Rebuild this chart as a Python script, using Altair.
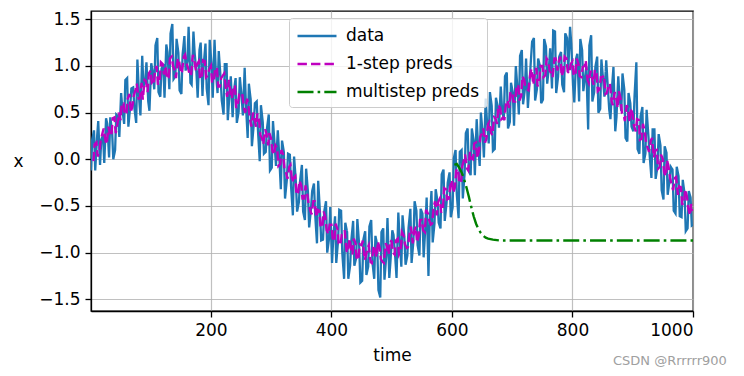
import altair as alt
import pandas as pd

# ---- data ----
data_time_a = list(range(1, 1000, 5)) + [1000]
data_x_a = [
    -0.12, 0.31, 0.23, -0.06, 0.26, 0.44, 0.02, 0.30, 0.10, 0.46,
    0.71, 0.38, 0.87, 0.56, 0.77, 0.39, 0.64, 1.11, 0.84, 0.62,
    1.03, 0.75, 1.30, 0.67, 1.02, 1.23, 0.75, 1.45, 0.89, 1.14,
    0.70, 1.32, 1.05, 0.82, 1.37, 0.93, 1.17, 0.68, 1.24, 0.58,
    1.01, 1.28, 0.71, 0.88, 0.48, 1.02, 0.72, 0.45, 0.87, 0.51,
    0.67, 0.98, 0.23, 0.64, 0.37, 0.62, -0.02, 0.40, 0.08, 0.48,
    -0.09, 0.13, 0.31, -0.32, 0.08, -0.22, 0.05, -0.60, -0.24, -0.46,
    -0.06, -0.65, -0.35, -0.54, -0.26, -0.90, -0.57, -0.86, -0.45, -0.85,
    -1.11, -0.61, -0.87, -0.55, -1.28, -0.78, -1.14, -0.66, -1.06, -0.92,
    -1.30, -0.77, -1.15, -0.65, -1.28, -0.92, -1.48, -0.74, -1.03, -1.27,
    -0.76, -1.06, -0.57, -1.15, -0.83, -1.03, -0.53, -0.88, -0.55, -1.03,
    -0.58, -0.71, -1.25, -0.34, -0.69, -0.45, -0.74, -0.11, -0.47, -0.14,
    -0.52, 0.10, -0.63, 0.10, -0.15, 0.33, -0.17, 0.20, 0.43, -0.07,
    0.27, 0.65, 0.17, 0.57, 0.11, 0.56, 0.78, 0.42, 0.93, 0.40,
    0.71, 1.00, 0.48, 1.17, 0.75, 0.55, 1.06, 1.30, 0.75, 1.00,
    0.64, 1.21, 0.99, 0.76, 1.37, 0.88, 1.15, 0.72, 1.30, 1.42,
    0.79, 1.08, 0.62, 1.17, 0.89, 0.32, 1.33, 0.72, 1.10, 0.54,
    0.84, 1.06, 0.53, 0.81, 0.30, 0.89, 0.52, 0.75, 0.19, 0.60,
    0.30, 1.04, 0.06, 0.56, 0.06, 0.25, -0.20, 0.32, -0.08, 0.15,
    -0.43, 0.07, -0.23, -0.11, -0.58, -0.18, -0.62, -0.37, -0.74, -0.41,
    -0.70,
]

data_time_b = list(range(3, 1000, 5))
data_x_b = [
    0.21, -0.12, 0.41, 0.21, -0.04, 0.38, 0.45, 0.00, 0.48, 0.24,
    0.54, 0.85, 0.35, 0.76, 0.55, 1.07, 0.47, 0.78, 1.04, 0.52,
    0.95, 1.22, 0.72, 0.97, 0.66, 1.15, 1.35, 0.86, 1.29, 0.74,
    1.12, 0.95, 1.42, 0.80, 1.14, 0.66, 1.25, 1.01, 0.76, 1.28,
    0.66, 0.96, 1.16, 0.63, 1.02, 0.42, 0.89, 0.72, 0.39, 0.88,
    0.47, 0.60, 0.81, 0.14, 0.60, 0.32, 0.58, 0.06, 0.33, -0.12,
    0.41, -0.07, 0.08, 0.20, -0.42, 0.06, -0.29, 0.03, -0.56, -0.23,
    -0.56, -0.10, -0.73, -0.34, -0.59, -0.23, -0.87, -0.56, -1.00, -0.51,
    -0.84, -1.11, -0.54, -1.00, -0.68, -1.28, -0.87, -1.14, -0.64, -1.32,
    -0.86, -1.24, -0.72, -1.10, -0.82, -1.40, -0.78, -1.29, -0.63, -1.09,
    -0.81, -1.27, -0.84, -0.60, -1.13, -0.73, -1.11, -0.45, -0.92, -0.53,
    -1.05, -0.41, -0.68, -0.89, -0.32, -0.68, -0.16, -0.66, -0.25, -0.62,
    0.01, -0.37, 0.08, -0.42, 0.28, -0.12, 0.33, -0.17, 0.18, 0.50,
    0.02, 0.42, 0.72, 0.09, 0.66, 0.34, 0.55, 0.89, 0.33, 0.82,
    0.36, 0.82, 1.11, 0.59, 1.08, 0.75, 1.26, 0.63, 1.08, 0.60,
    1.29, 0.81, 1.19, 1.38, 0.71, 1.10, 0.80, 1.35, 0.95, 1.24,
    0.61, 1.13, 1.29, 0.73, 0.99, 1.22, 0.62, 0.99, 0.50, 1.07,
    0.67, 0.84, 0.43, 0.99, 0.45, 0.66, 0.92, 0.23, 0.71, 0.35,
    0.68, 0.11, 0.46, -0.04, 0.53, 0.05, 0.32, -0.21, 0.27, -0.33,
    0.14, -0.38, -0.08, -0.55, -0.08, -0.61, -0.22, -0.77, -0.34, -0.71,
]

pred_time_a = list(range(5, 1001, 5))
pred_x_a = [
    -0.02, 0.18, 0.08, 0.28, 0.20, 0.35, 0.25, 0.45, 0.38, 0.42,
    0.60, 0.50, 0.70, 0.58, 0.75, 0.65, 0.82, 0.85, 0.72, 0.95,
    0.80, 1.00, 0.85, 1.02, 1.00, 0.88, 1.10, 0.95, 1.08, 0.92,
    1.10, 1.02, 0.90, 1.12, 0.95, 1.05, 0.88, 1.05, 0.90, 1.00,
    0.85, 0.98, 0.78, 0.90, 0.75, 0.85, 0.65, 0.78, 0.60, 0.68,
    0.55, 0.65, 0.42, 0.50, 0.35, 0.42, 0.22, 0.32, 0.15, 0.22,
    0.05, 0.12, -0.05, 0.05, -0.15, -0.08, -0.25, -0.18, -0.35, -0.28,
    -0.42, -0.38, -0.55, -0.45, -0.62, -0.55, -0.72, -0.62, -0.80, -0.70,
    -0.88, -0.75, -0.92, -0.80, -0.98, -0.85, -1.02, -0.90, -1.05, -0.92,
    -1.08, -0.95, -1.10, -0.92, -1.05, -0.95, -1.10, -0.90, -1.02, -0.88,
    -1.02, -0.85, -0.98, -0.82, -0.95, -0.78, -0.90, -0.72, -0.82, -0.65,
    -0.78, -0.58, -0.70, -0.50, -0.60, -0.42, -0.52, -0.32, -0.42, -0.22,
    -0.30, -0.10, -0.25, 0.00, -0.10, 0.08, 0.00, 0.18, 0.10, 0.28,
    0.18, 0.38, 0.28, 0.45, 0.38, 0.55, 0.45, 0.62, 0.55, 0.72,
    0.62, 0.80, 0.68, 0.85, 0.75, 0.92, 0.80, 0.98, 0.85, 1.00,
    0.90, 1.05, 0.92, 1.08, 0.95, 1.10, 0.95, 1.08, 0.92, 1.05,
    0.90, 1.02, 0.88, 1.00, 0.85, 0.95, 0.80, 0.92, 0.75, 0.88,
    0.70, 0.80, 0.62, 0.72, 0.55, 0.65, 0.48, 0.58, 0.40, 0.48,
    0.30, 0.42, 0.22, 0.30, 0.12, 0.20, 0.02, 0.10, -0.08, 0.00,
    -0.18, -0.10, -0.28, -0.20, -0.38, -0.30, -0.48, -0.40, -0.60, -0.55,
]

pred_time_b = list(range(7, 1000, 5))
pred_x_b = [
    0.16, 0.03, 0.20, 0.33, 0.16, 0.28, 0.44, 0.28, 0.50, 0.60,
    0.48, 0.65, 0.50, 0.68, 0.81, 0.65, 0.64, 0.84, 0.92, 0.81,
    0.94, 0.80, 1.04, 0.91, 0.86, 1.08, 1.00, 0.87, 1.07, 0.94,
    1.12, 0.98, 0.90, 1.08, 1.02, 0.86, 1.06, 0.88, 0.96, 0.82,
    0.98, 0.78, 0.87, 0.92, 0.67, 0.72, 0.79, 0.55, 0.69, 0.70,
    0.50, 0.59, 0.35, 0.45, 0.49, 0.26, 0.16, 0.28, 0.28, 0.09,
    0.15, -0.07, 0.10, -0.10, -0.21, -0.06, -0.20, -0.38, -0.23, -0.42,
    -0.28, -0.47, -0.59, -0.45, -0.54, -0.73, -0.56, -0.76, -0.70, -0.85,
    -0.69, -0.90, -0.81, -0.76, -1.00, -0.94, -0.85, -1.08, -0.91, -0.87,
    -1.04, -0.92, -1.11, -0.97, -0.88, -1.07, -1.11, -0.93, -0.87, -1.00,
    -0.87, -1.02, -0.78, -0.91, -0.94, -0.72, -0.78, -0.89, -0.65, -0.76,
    -0.54, -0.65, -0.69, -0.45, -0.46, -0.57, -0.31, -0.43, -0.29, -0.36,
    -0.12, -0.25, -0.08, 0.05, -0.12, 0.01, 0.17, 0.01, 0.24, 0.33,
    0.22, 0.40, 0.26, 0.44, 0.58, 0.43, 0.42, 0.63, 0.72, 0.62,
    0.77, 0.63, 0.89, 0.77, 0.74, 0.97, 0.90, 0.78, 1.00, 0.88,
    1.08, 0.95, 0.88, 1.08, 1.04, 0.89, 1.10, 0.94, 1.02, 0.90,
    1.08, 0.89, 0.99, 1.06, 0.82, 0.88, 0.96, 0.73, 0.88, 0.90,
    0.71, 0.81, 0.58, 0.68, 0.73, 0.50, 0.41, 0.54, 0.55, 0.36,
    0.43, 0.21, 0.38, 0.18, 0.08, 0.23, 0.09, -0.10, 0.05, -0.14,
    -0.01, -0.20, -0.33, -0.19, -0.29, -0.48, -0.32, -0.52, -0.48,
]

multi_time = [604, 608, 612, 616, 620, 624, 628, 632, 636, 640, 644, 648,
              652, 656, 660, 668, 680, 700, 800, 900, 1000]
multi_x = [-0.06, -0.05, -0.09, -0.14, -0.21, -0.30, -0.40, -0.51, -0.61,
           -0.69, -0.75, -0.79, -0.82, -0.84, -0.85, -0.86, -0.87, -0.87,
           -0.87, -0.87, -0.87]

series_names = ["data", "1-step preds", "multistep preds"]
series_colors = ["#1f77b4", "#bf00bf", "#008000"]
series_dashes = [[1, 0], [9.4, 4.1], [16, 4.1, 2.6, 4.1]]

x_ticks = [200, 400, 600, 800, 1000]
y_ticks = [-1.5, -1.0, -0.5, 0.0, 0.5, 1.0, 1.5]

FONT = "DejaVu Sans"


def merged(ta, xa, tb, xb, name):
    df = pd.concat([
        pd.DataFrame({"time": ta, "x": xa}),
        pd.DataFrame({"time": tb, "x": xb}),
    ]).sort_values("time").reset_index(drop=True)
    df["series"] = name
    return df


df_data = merged(data_time_a, data_x_a, data_time_b, data_x_b, series_names[0])
df_pred = merged(pred_time_a, pred_x_a, pred_time_b, pred_x_b, series_names[1])
df_multi = pd.DataFrame({"time": multi_time, "x": multi_x, "series": series_names[2]})

xscale = alt.Scale(domain=[1, 1000], nice=False, zero=False)
yscale = alt.Scale(domain=[-1.625, 1.589], nice=False, zero=False)

color = alt.Color(
    "series:N",
    scale=alt.Scale(domain=series_names, range=series_colors),
    legend=alt.Legend(
        title=None,
        orient="none",
        legendX=198,
        legendY=7,
        padding=7,
        fillColor="rgba(255,255,255,0.8)",
        strokeColor="#cccccc",
        cornerRadius=3,
        symbolType="M-2,0H2",
        symbolSize=380,
        symbolStrokeWidth=2.5,
        symbolOffset=10,
        labelFont=FONT,
        labelFontSize=17,
        labelColor="#000000",
        labelOffset=18,
        rowPadding=9,
    ),
)
dash = alt.StrokeDash(
    "series:N",
    scale=alt.Scale(domain=series_names, range=series_dashes),
    legend=alt.Legend(title=None),
)

xaxis = alt.Axis(
    values=x_ticks, title="time", grid=True, format="d",
    titleY=44, titleX=301, titleBaseline="middle", titleAlign="center",
)
yaxis = alt.Axis(
    values=y_ticks, title="x", grid=True, format=".1f",
    titleAngle=0, titleX=-73, titleY=150, titleBaseline="middle", titleAlign="center",
)


def layer(df, width):
    return alt.Chart(df).mark_line(strokeWidth=width, clip=True).encode(
        x=alt.X("time:Q", scale=xscale, axis=xaxis),
        y=alt.Y("x:Q", scale=yscale, axis=yaxis),
        color=color,
        strokeDash=dash,
    )


watermark = alt.Chart(pd.DataFrame({"t": ["CSDN @Rrrrrr900"]})).mark_text(
    align="left", baseline="middle", fontSize=13, font=FONT, color="#a0a0a0"
).encode(x=alt.value(522), y=alt.value(350), text="t:N")

chart = alt.layer(
    layer(df_data, 2.3), layer(df_pred, 2.4), layer(df_multi, 2.4), watermark
).properties(
    width=602,
    height=300,
    autosize=alt.AutoSizeParams(type="none"),
    padding={"left": 91, "top": 11, "right": 51, "bottom": 65},
).configure_view(
    stroke="#000000", strokeWidth=1.3
).configure_axis(
    domainColor="#000000", domainWidth=1.3,
    tickColor="#000000", tickWidth=1.3, tickSize=6,
    labelFont=FONT, labelFontSize=17, labelColor="#000000", labelPadding=5,
    titleFont=FONT, titleFontSize=17, titleColor="#000000", titleFontWeight="normal",
    gridColor="#b0b0b0", gridWidth=1.2, gridOpacity=0.8,
)

chart.save("out.html", embed_options={"renderer": "svg", "actions": False})
